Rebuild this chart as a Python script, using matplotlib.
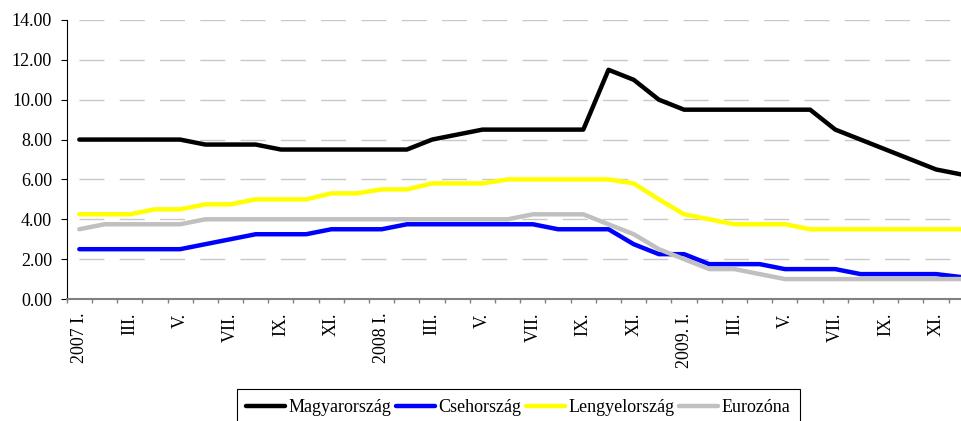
import matplotlib
matplotlib.use('Agg')
import matplotlib.pyplot as plt
import numpy as np

plt.rcParams['font.family'] = ['Liberation Serif', 'DejaVu Serif']

# monthly, 2007 I. - 2009 XII.
magyar = [8.0, 8.0, 8.0, 8.0, 8.0, 7.75, 7.75, 7.75,
          7.5, 7.5, 7.5, 7.5, 7.5, 7.5, 8.0, 8.25,
          8.5, 8.5, 8.5, 8.5, 8.5, 11.5, 11.0, 10.0,
          9.5, 9.5, 9.5, 9.5, 9.5, 9.5, 8.5, 8.0,
          7.5, 7.0, 6.5, 6.25]
cseh = [2.5, 2.5, 2.5, 2.5, 2.5, 2.75, 3.0, 3.25,
        3.25, 3.25, 3.5, 3.5, 3.5, 3.75, 3.75, 3.75,
        3.75, 3.75, 3.75, 3.5, 3.5, 3.5, 2.75, 2.25,
        2.25, 1.75, 1.75, 1.75, 1.5, 1.5, 1.5, 1.25,
        1.25, 1.25, 1.25, 1.1]
lengyel = [4.25, 4.25, 4.25, 4.5, 4.5, 4.75, 4.75, 5.0,
           5.0, 5.0, 5.3, 5.3, 5.5, 5.5, 5.8, 5.8,
           5.8, 6.0, 6.0, 6.0, 6.0, 6.0, 5.8, 5.0,
           4.25, 4.0, 3.75, 3.75, 3.75, 3.5, 3.5, 3.5,
           3.5, 3.5, 3.5, 3.5]
euro = [3.5, 3.75, 3.75, 3.75, 3.75, 4.0, 4.0, 4.0,
        4.0, 4.0, 4.0, 4.0, 4.0, 4.0, 4.0, 4.0,
        4.0, 4.0, 4.25, 4.25, 4.25, 3.75, 3.25, 2.5,
        2.0, 1.5, 1.5, 1.25, 1.0, 1.0, 1.0, 1.0,
        1.0, 1.0, 1.0, 1.0]

tick_labels = ['2007 I.', 'III.', 'V.', 'VII.', 'IX.', 'XI.',
               '2008 I.', 'III.', 'V.', 'VII.', 'IX.', 'XI.',
               '2009. I.', 'III.', 'V.', 'VII.', 'IX.', 'XI.']

x = np.arange(len(magyar))

fig = plt.figure(figsize=(9.62, 4.21), dpi=100)
# axes runs a bit past the right edge, as in the original
ax = fig.add_axes([66.7 / 962, 1 - 299 / 421, 907.2 / 962, 279 / 421])

ax.plot(x, magyar, color='black', lw=3.2, label='Magyarország', solid_capstyle='round', solid_joinstyle='round')
ax.plot(x, cseh, color='#0000ff', lw=3.2, label='Csehország', solid_capstyle='round', solid_joinstyle='round')
ax.plot(x, lengyel, color='#ffff00', lw=3.2, label='Lengyelország', solid_capstyle='round', solid_joinstyle='round')
ax.plot(x, euro, color='#c0c0c0', lw=3.2, label='Eurozóna', solid_capstyle='round', solid_joinstyle='round')

ax.set_xlim(-0.5, len(x) - 0.5)
ax.set_ylim(0, 14)
ax.set_yticks(np.arange(0, 14.1, 2))
ax.set_yticklabels(['%.2f' % v for v in np.arange(0, 14.1, 2)], fontsize=13)
ax.set_xticks(x[::2])
ax.set_xticklabels(tick_labels, rotation=90, fontsize=13)
ax.set_xticks(np.arange(-0.5, len(x), 1), minor=True)

ax.tick_params(axis='x', which='major', length=0, pad=10)
ax.tick_params(axis='x', which='minor', length=3, width=1, color='#808080', direction='out')
ax.tick_params(axis='y', length=4, width=0.8, color='black', pad=6.5)

ax.yaxis.grid(True, color='#c8c8c8', lw=1.0, linestyle=(20.4, (18, 11)))
ax.set_axisbelow(True)

for s in ['top', 'right']:
    ax.spines[s].set_visible(False)
ax.spines['left'].set_color('black')
ax.spines['left'].set_linewidth(0.8)
ax.spines['bottom'].set_color('#808080')
ax.spines['bottom'].set_linewidth(1.5)

leg = fig.legend(loc='upper center', bbox_to_anchor=(518.5 / 962, 1 - 389 / 421), ncol=4,
                 fontsize=13, frameon=True, fancybox=False, framealpha=1, edgecolor='black',
                 handlelength=2.15, handletextpad=0.2, columnspacing=0.25, borderpad=0.55,
                 borderaxespad=0)
leg.get_frame().set_linewidth(0.8)

fig.savefig('out.png', dpi=100)
